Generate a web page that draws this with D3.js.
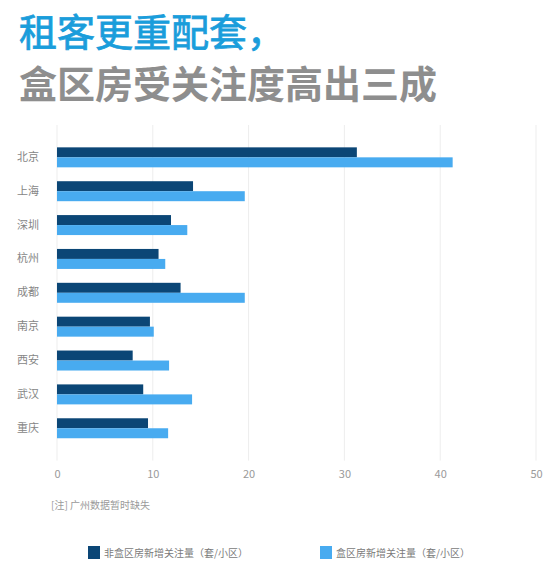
<!DOCTYPE html>
<html>
<head>
<meta charset="utf-8">
<script src="https://cdn.jsdelivr.net/npm/d3@7/dist/d3.min.js"></script>
<style>
  html, body { margin: 0; padding: 0; background: #fff; }
  svg { display: block; font-family: "Noto Sans CJK SC", "Noto Sans", sans-serif; }
</style>
</head>
<body>
<svg id="chart" width="550" height="577"></svg>
<script>
const cities = ["北京", "上海", "深圳", "杭州", "成都", "南京", "西安", "武汉", "重庆"];
const seriesNames = ["非盒区房新增关注量（套/小区）", "盒区房新增关注量（套/小区）"];
const nonBoxValues = [31.3, 14.2, 11.9, 10.6, 12.9, 9.7, 7.9, 9.0, 9.5];
const boxValues = [41.3, 19.6, 13.6, 11.3, 19.6, 10.1, 11.7, 14.1, 11.6];
const xTicks = [0, 10, 20, 30, 40, 50];
const titleLine1 = "租客更重配套，";
const titleLine2 = "盒区房受关注度高出三成";
const note = "[注] 广州数据暂时缺失";

const colors = ["#0b4676", "#48abf0"];

const svg = d3.select("#chart");

// Titles
svg.append("text").attr("x", 19).attr("y", 46)
  .attr("font-size", 38).attr("font-weight", "normal")
  .attr("stroke", "#1a9ddb").attr("stroke-width", 0.8)
  .attr("fill", "#1a9ddb").text(titleLine1);
svg.append("text").attr("x", 19).attr("y", 98)
  .attr("font-size", 38).attr("font-weight", "bold")
  .attr("fill", "#8e8e8e").text(titleLine2);

const x = d3.scaleLinear().domain([0, 50]).range([57, 536]);
const y = d3.scaleBand().domain(cities).range([125, 460.6])
  .paddingInner(0.41).paddingOuter(0.66);
const ySub = d3.scaleBand().domain([0, 1]).range([0, y.bandwidth()]).padding(0);

// Gridlines
svg.append("g").selectAll("line").data(xTicks).join("line")
  .attr("x1", d => x(d)).attr("x2", d => x(d))
  .attr("y1", 125).attr("y2", 460.6)
  .attr("stroke", "#ededed").attr("stroke-width", 1);

// x tick labels
const xAxis = d3.axisBottom(x).tickValues(xTicks).tickSize(0).tickPadding(0);
const gx = svg.append("g").attr("transform", "translate(0,470)").call(xAxis);
gx.select(".domain").remove();
gx.selectAll("text").attr("font-size", 11).attr("fill", "#9a9a9a")
  .attr("font-family", "\"Noto Sans CJK SC\", sans-serif");

// y labels
const yAxis = d3.axisLeft(y).tickSize(0).tickPadding(0);
const gy = svg.append("g").attr("transform", "translate(39,0)").call(yAxis);
gy.select(".domain").remove();
gy.selectAll("text").attr("font-size", 11).attr("fill", "#858585")
  .attr("font-family", "\"Noto Sans CJK SC\", sans-serif");

// Bars
const rows = cities.map((c, i) => ({ city: c, vals: [nonBoxValues[i], boxValues[i]] }));
const groups = svg.append("g").selectAll("g").data(rows).join("g")
  .attr("transform", d => `translate(0,${y(d.city)})`);
groups.selectAll("rect").data(d => d.vals.map((v, k) => ({ v, k }))).join("rect")
  .attr("x", x(0))
  .attr("y", d => ySub(d.k))
  .attr("width", d => x(d.v) - x(0))
  .attr("height", ySub.bandwidth())
  .attr("fill", d => colors[d.k]);

// Note
svg.append("text").attr("x", 51).attr("y", 509)
  .attr("font-size", 10).attr("fill", "#9a9a9a").text(note);

// Legend
const legendX = [88, 320];
const lg = svg.append("g").selectAll("g").data(seriesNames).join("g")
  .attr("transform", (d, i) => `translate(${legendX[i]},546)`);
lg.append("rect").attr("width", 12).attr("height", 13)
  .attr("fill", (d, i) => colors[i]);
lg.append("text").attr("x", 16).attr("y", 10.5)
  .attr("font-size", 10).attr("fill", "#7a7a7a").text(d => d);
</script>
</body>
</html>
